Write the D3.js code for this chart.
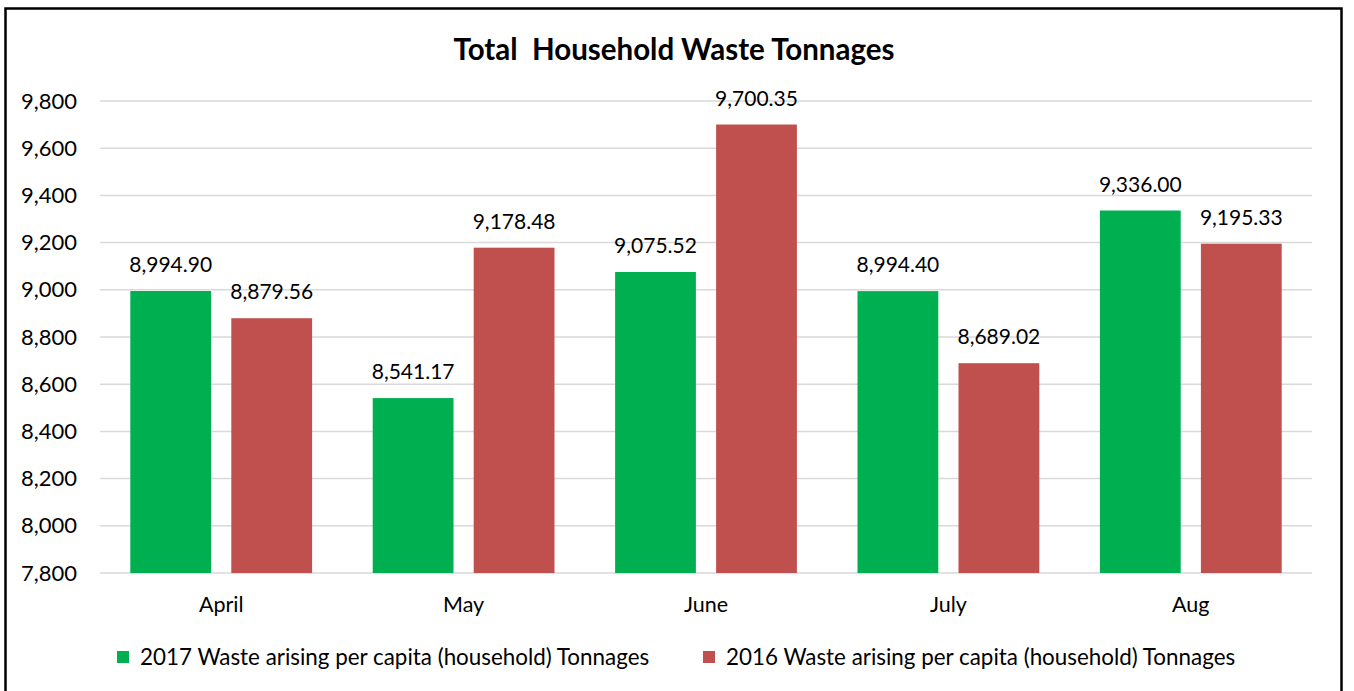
<!DOCTYPE html>
<html>
<head>
<meta charset="utf-8">
<script src="https://cdn.jsdelivr.net/npm/d3@7"></script>
<style>
  body { margin: 0; background: #fff; }
  text { font-family: Lato, "Open Sans", sans-serif; fill: #000; }
</style>
</head>
<body>
<svg width="1354" height="691"></svg>
<script>
var months = ["April", "May", "June", "July", "Aug"];
var seriesNames = ["2017 Waste arising per capita (household) Tonnages",
                   "2016 Waste arising per capita (household) Tonnages"];
var values2017 = [8994.90, 8541.17, 9075.52, 8994.40, 9336.00];
var values2016 = [8879.56, 9178.48, 9700.35, 8689.02, 9195.33];
var yTicks = [7800, 8000, 8200, 8400, 8600, 8800, 9000, 9200, 9400, 9600, 9800];
var colors = ["#00B050", "#C0504D"];

var svg = d3.select("svg"),
    margin = {top: 101, right: 42, bottom: 118, left: 100},
    width = 1312 - margin.left,
    height = 573 - margin.top;

// outer frame
svg.append("rect")
    .attr("x", 5.5).attr("y", 8.5)
    .attr("width", 1336).attr("height", 700)
    .attr("fill", "none")
    .attr("stroke", "#000")
    .attr("stroke-width", 2.5);

svg.append("text")
    .attr("x", 674).attr("y", 60)
    .attr("text-anchor", "middle")
    .style("font-size", "29.5px")
    .style("font-weight", "bold")
    .style("white-space", "pre")
    .text("Total  Household Waste Tonnages");

var g = svg.append("g").attr("transform", "translate(" + margin.left + "," + margin.top + ")");

var x0 = d3.scaleBand().domain(months).range([0, width]).paddingInner(0.25).paddingOuter(0.125),
    x1 = d3.scaleBand().domain([0, 1]).range([0, x0.bandwidth()]).paddingInner(0.2),
    y = d3.scaleLinear().domain([7800, 9800]).range([height, 0]);

var data = months.map(function(m, i) {
  return {month: m, values: [values2017[i], values2016[i]]};
});

// grid
g.append("g")
  .selectAll("line")
  .data(yTicks)
  .enter().append("line")
    .attr("x1", 0).attr("x2", width)
    .attr("y1", function(d) { return y(d); })
    .attr("y2", function(d) { return y(d); })
    .attr("stroke", "#d9d9d9")
    .attr("stroke-width", 1.5);

var yAxis = g.append("g")
    .call(d3.axisLeft(y).tickValues(yTicks).tickSize(0).tickPadding(23).tickFormat(d3.format(",")));
yAxis.select(".domain").remove();
yAxis.selectAll("text").style("font-size", "22px").attr("fill", "#000");

var xAxis = g.append("g")
    .attr("transform", "translate(0," + height + ")")
    .call(d3.axisBottom(x0).tickSize(0).tickPadding(24));
xAxis.select(".domain").remove();
xAxis.selectAll("text").style("font-size", "21.5px").attr("fill", "#000");

var groups = g.selectAll(".month")
  .data(data)
  .enter().append("g")
    .attr("class", "month")
    .attr("transform", function(d) { return "translate(" + x0(d.month) + ",0)"; });

var bars = groups.selectAll("g")
  .data(function(d) { return d.values.map(function(v, i) { return {i: i, v: v}; }); })
  .enter().append("g");

bars.append("rect")
    .attr("x", function(d) { return x1(d.i); })
    .attr("y", function(d) { return y(d.v); })
    .attr("width", x1.bandwidth())
    .attr("height", function(d) { return height - y(d.v); })
    .attr("fill", function(d) { return colors[d.i]; });

bars.append("text")
    .attr("x", function(d) { return x1(d.i) + x1.bandwidth() / 2; })
    .attr("y", function(d) { return y(d.v) - 19; })
    .attr("text-anchor", "middle")
    .style("font-size", "21px")
    .text(function(d) { return d3.format(",.2f")(d.v); });

// legend
var legendX = [117, 703];
var legend = svg.selectAll(".legend")
  .data(seriesNames)
  .enter().append("g")
    .attr("class", "legend")
    .attr("transform", function(d, i) { return "translate(" + legendX[i] + ",651)"; });

legend.append("rect")
    .attr("width", 12).attr("height", 12)
    .attr("fill", function(d, i) { return colors[i]; });

legend.append("text")
    .attr("x", 23).attr("y", 6)
    .attr("dy", "0.35em")
    .style("font-size", "22.4px")
    .text(function(d) { return d; });
</script>
</body>
</html>
